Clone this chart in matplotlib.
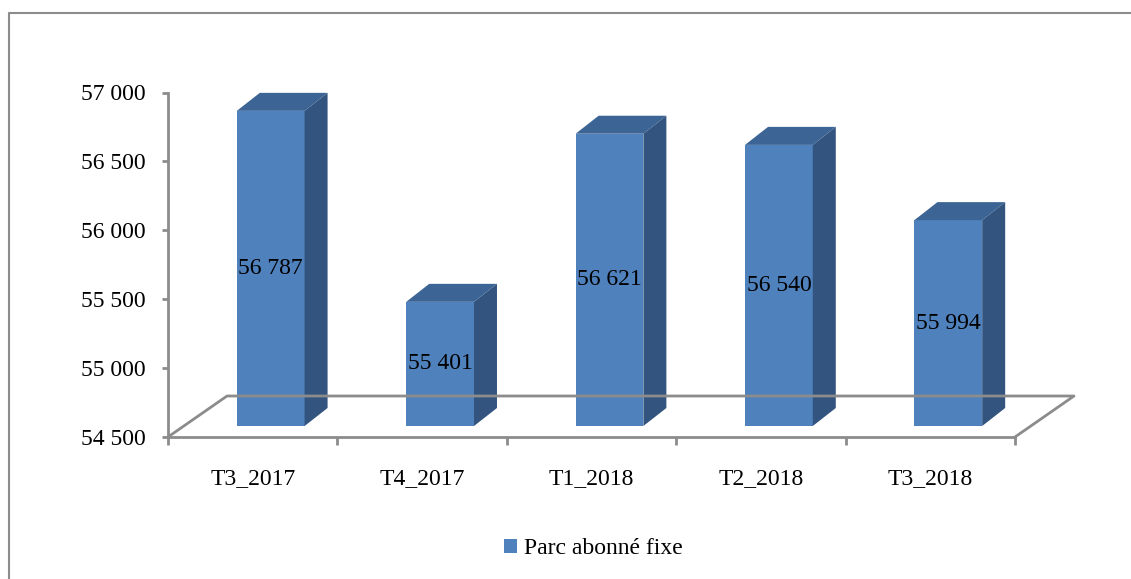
import matplotlib
matplotlib.use("Agg")
import matplotlib.pyplot as plt
from matplotlib.patches import Polygon, Patch
from matplotlib.lines import Line2D
from matplotlib.transforms import IdentityTransform, offset_copy
import numpy as np

categories = ["T3_2017", "T4_2017", "T1_2018", "T2_2018", "T3_2018"]
values = [56787, 55401, 56621, 56540, 55994]
yticks = [54500, 55000, 55500, 56000, 56500, 57000]
series_name = "Parc abonné fixe"

FRONT = "#4F81BD"
TOP = "#3C6494"
SIDE = "#32547E"
GRID = "#8C8C8C"
FS = 17

plt.rcParams["font.family"] = ["Liberation Serif", "DejaVu Serif"]
W, H = 1131, 579
fig = plt.figure(figsize=(W / 100, H / 100), dpi=100)

# front plane axes (pixels -> figure fractions)
left, right, top, bottom = 168, 1015, 92.5, 437
ax = fig.add_axes([left / W, 1 - bottom / H, (right - left) / W, (bottom - top) / H])
ax.set_xlim(0, len(categories))
ax.set_ylim(yticks[0], yticks[-1])
for s in ["top", "right"]:
    ax.spines[s].set_visible(False)
for s in ["left", "bottom"]:
    ax.spines[s].set_color(GRID)
    ax.spines[s].set_linewidth(2)
ax.patch.set_visible(False)

ax.set_yticks(yticks)
ax.set_yticklabels([f"{v:,}".replace(",", " ") for v in yticks])
ax.tick_params(axis="y", colors=GRID, labelcolor="black", labelsize=FS,
               length=4.3, width=2, pad=11.5)
ax.set_xticks(np.arange(len(categories) + 1))
ax.set_xticklabels([])
ax.tick_params(axis="x", which="major", colors=GRID, length=6, width=2)
ax.set_xticks(np.arange(len(categories)) + 0.5, minor=True)
ax.set_xticklabels(categories, minor=True)
ax.tick_params(axis="x", which="minor", length=0, labelsize=FS, pad=22,
               labelcolor="black")

# depth offsets (pixels, y upward)
floor_dx, floor_dy = 59, 41
bar_off_x, bar_off_y = 18, 11
depth_dx, depth_dy = 23, 18
bar_w = 0.40

def disp(x, v, dx=0.0, dy=0.0):
    p = ax.transData.transform((x, v))
    return (p[0] + dx, p[1] + dy)

# floor outline
y0 = yticks[0]
n = len(categories)
floor_pts = [disp(0, y0), disp(0, y0, floor_dx, floor_dy),
             disp(n, y0, floor_dx, floor_dy), disp(n, y0)]
fig.add_artist(Line2D([p[0] / W for p in floor_pts], [p[1] / H for p in floor_pts],
                      color=GRID, lw=2, transform=fig.transFigure))

# bars
tr_front = offset_copy(ax.transData, fig=fig, x=bar_off_x, y=bar_off_y, units="dots")
xs = np.arange(n) + 0.5 - bar_w / 2
ax.bar(xs, np.array(values) - y0, bottom=y0, width=bar_w, align="edge",
       color=FRONT, transform=tr_front, clip_on=False, zorder=3)
for i, v in enumerate(values):
    xl, xr = xs[i], xs[i] + bar_w
    ox, oy = bar_off_x, bar_off_y
    side = [disp(xr, y0, ox, oy), disp(xr, v, ox, oy),
            disp(xr, v, ox + depth_dx, oy + depth_dy), disp(xr, y0, ox + depth_dx, oy + depth_dy)]
    topf = [disp(xl, v, ox, oy), disp(xr, v, ox, oy),
            disp(xr, v, ox + depth_dx, oy + depth_dy), disp(xl, v, ox + depth_dx, oy + depth_dy)]
    ax.add_patch(Polygon(side, closed=True, facecolor=SIDE, edgecolor="none",
                         transform=IdentityTransform(), clip_on=False, zorder=3))
    ax.add_patch(Polygon(topf, closed=True, facecolor=TOP, edgecolor="none",
                         transform=IdentityTransform(), clip_on=False, zorder=3))
    ax.text(i + 0.5, (v + y0) / 2, f"{v:,}".replace(",", " "), transform=tr_front,
            ha="center", va="center", fontsize=FS, zorder=4)

# legend
fig.legend(handles=[Patch(facecolor=FRONT, edgecolor="none")], labels=[series_name],
           loc="center", bbox_to_anchor=(0.525, 1 - 549 / H), frameon=False,
           fontsize=FS, handlelength=0.55, handleheight=0.55, handletextpad=0.3)

# chart frame
fig.add_artist(Line2D([8.5 / W, 8.5 / W, 1.0], [0.0, 1 - 12.5 / H, 1 - 12.5 / H],
                      color=GRID, lw=1.5, transform=fig.transFigure))

fig.savefig("out.png", dpi=100, facecolor="white")
